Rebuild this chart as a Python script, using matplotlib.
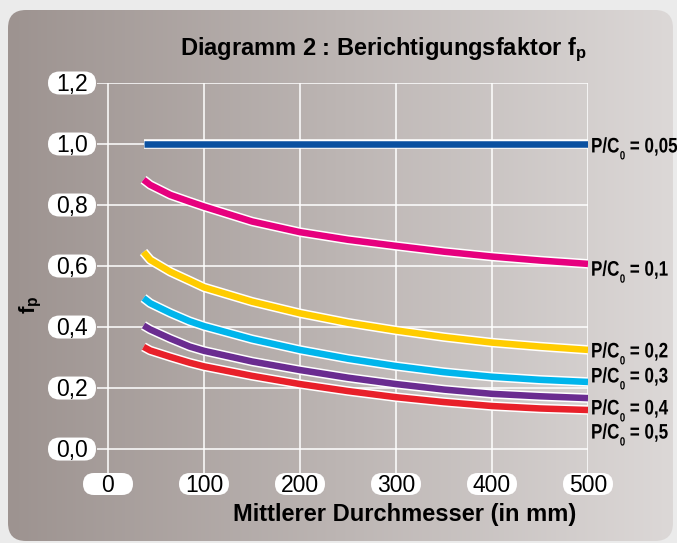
import numpy as np
import matplotlib
matplotlib.use('Agg')
import matplotlib.pyplot as plt
import matplotlib.patheffects as pe
from matplotlib.patches import FancyBboxPatch, PathPatch
from matplotlib.colors import LinearSegmentedColormap
from matplotlib.textpath import TextPath, TextToPath
from matplotlib.font_manager import FontProperties
from matplotlib.path import Path

# mean diameter (mm) at which the curves were read
d = [37, 44, 65, 85, 100, 150, 200, 250, 300, 350, 400, 450, 500]
# correction factor f_p for each load ratio P/C0
f_005 = [1.0, 1.0, 1.0, 1.0, 1.0, 1.0, 1.0, 1.0, 1.0, 1.0, 1.0, 1.0, 1.0]
f_01 = [0.883, 0.866, 0.833, 0.811, 0.795, 0.746, 0.711, 0.686, 0.666, 0.647, 0.631, 0.618, 0.607]
f_02 = [0.646, 0.620, 0.581, 0.552, 0.530, 0.483, 0.445, 0.414, 0.389, 0.367, 0.349, 0.336, 0.325]
f_03 = [0.495, 0.478, 0.446, 0.419, 0.403, 0.360, 0.325, 0.296, 0.272, 0.252, 0.237, 0.227, 0.220]
f_04 = [0.405, 0.392, 0.362, 0.336, 0.322, 0.287, 0.259, 0.234, 0.213, 0.195, 0.181, 0.173, 0.167]
f_05 = [0.335, 0.323, 0.302, 0.283, 0.271, 0.240, 0.213, 0.190, 0.170, 0.154, 0.141, 0.133, 0.128]

series = [f_005, f_01, f_02, f_03, f_04, f_05]
ratios = ['0,05', '0,1', '0,2', '0,3', '0,4', '0,5']
colors = ['#0a50a0', '#e6007e', '#ffcc00', '#00b5ec', '#6a2c90', '#e8202a']
# where the end labels sit (they are spread out, not on the lines)
label_y = [0.997, 0.593, 0.325, 0.243, 0.138, 0.059]

xticks = [0, 100, 200, 300, 400, 500]
yticks = [0.0, 0.2, 0.4, 0.6, 0.8, 1.0, 1.2]
ytick_labels = ['0,0', '0,2', '0,4', '0,6', '0,8', '1,0', '1,2']

W, H = 677, 543
fig = plt.figure(figsize=(W / 100, H / 100), dpi=100, facecolor='#ebebeb')

# background layer in pixel units
bg = fig.add_axes([0, 0, 1, 1])
bg.set_xlim(0, W)
bg.set_ylim(H, 0)
bg.axis('off')
cmap = LinearSegmentedColormap.from_list('bg', ['#9d9390', '#dcd8d7'])
grad = np.linspace(0, 1, 256)[None, :]
im = bg.imshow(grad, cmap=cmap, extent=(8, 673, 541, 10), aspect='auto', zorder=0)
box = FancyBboxPatch((8, 10), 665, 531, boxstyle='round,pad=0,rounding_size=18',
                     transform=bg.transData, fc='none', ec='none')
bg.add_patch(box)
im.set_clip_path(box)

# plot axes: x=0 -> px 108, x=500 -> px 588 ; y=0 -> px 449, y=1.2 -> px 83
left, right, top, bottom = 93.6, 588, 83, 476.5
ax = fig.add_axes([left / W, (H - bottom) / H, (right - left) / W, (bottom - top) / H])
ax.set_xlim(-15, 500)
ax.set_ylim(-0.09, 1.2)
ax.axis('off')

ax.hlines(yticks, -11.5, 500, color='white', lw=1.1, zorder=1)
ax.vlines(xticks, -0.08, 1.2, color='white', lw=1.1, zorder=1)

for vals, c in zip(series, colors):
    ax.plot(d, vals, color=c, lw=4.7, solid_capstyle='butt', solid_joinstyle='round', zorder=3,
            path_effects=[pe.Stroke(linewidth=6.9, foreground='white'), pe.Normal()])

to_bg = bg.transData.inverted()

# condensed bold end labels: build text paths and squeeze them horizontally
t2p = TextToPath()
fp = FontProperties(family='Liberation Sans', weight='bold', size=21)

def label_path(r):
    p1 = TextPath((0, 0), 'P/C', size=21, prop=fp)
    w1 = t2p.get_text_width_height_descent('P/C', fp, ismath=False)[0]
    p2 = TextPath((w1 + 0.5, -7), '0', size=12, prop=fp)
    p3 = TextPath((w1 + 7, 0), ' = ' + r, size=21, prop=fp)
    return Path.make_compound_path(p1, p2, p3)

ref_w = label_path(ratios[0]).get_extents().width
sx = 85.0 / ref_w
for r, ly in zip(ratios, label_y):
    cx, cy = to_bg.transform(ax.transData.transform((503, ly)))
    p = label_path(r)
    v = p.vertices * np.array([sx, -1.0]) + np.array([591, cy + 7.5])
    bg.add_patch(PathPatch(Path(v, p.codes), fc='black', ec='none', lw=0, zorder=4))

def pill(cx, cy, txt, w, h=23):
    p = FancyBboxPatch((cx - w / 2, cy - h / 2), w, h,
                       boxstyle='round,pad=0,rounding_size=%f' % (h / 2),
                       fc='white', ec='none', zorder=2)
    bg.add_patch(p)
    bg.text(cx, cy + 1, txt, ha='center', va='center', fontsize=16.5,
            fontfamily='Liberation Sans', color='black', zorder=3)

for yv, lab in zip(yticks, ytick_labels):
    py = to_bg.transform(ax.transData.transform((0, yv)))[1]
    pill(72, py, lab, 48)
for xv in xticks:
    px = to_bg.transform(ax.transData.transform((xv, 0)))[0]
    pill(px, 484, str(xv), 50, 22)

bg.text(383, 50, 'Diagramm 2 : Berichtigungsfaktor $\\mathdefault{f_p}$', ha='center', va='center',
        fontsize=17, fontweight='bold', fontfamily='Liberation Sans')
bg.text(405, 515, 'Mittlerer Durchmesser (in mm)', ha='center', va='center',
        fontsize=17, fontweight='bold', fontfamily='Liberation Sans')
bg.text(31, 305, '$\\mathdefault{f_p}$', ha='center', va='center', rotation=90,
        fontsize=16, fontweight='bold', fontfamily='Liberation Sans')

fig.savefig('out.png', dpi=100, facecolor=fig.get_facecolor())
